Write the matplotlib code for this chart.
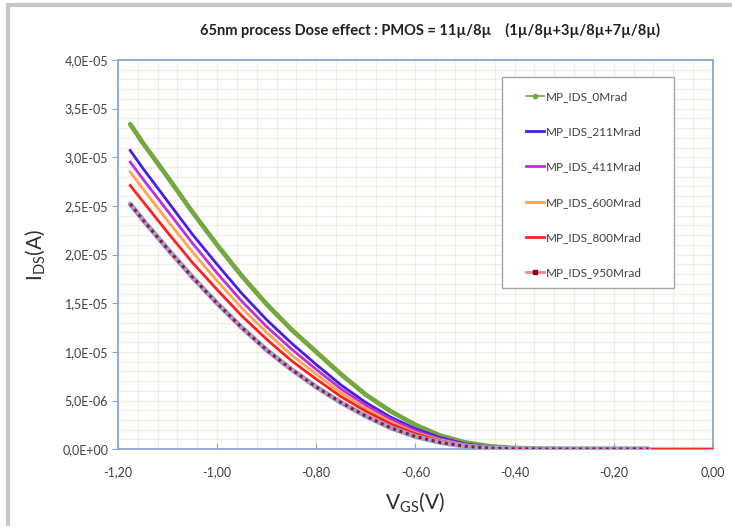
import numpy as np
import matplotlib
matplotlib.use('Agg')
import matplotlib.pyplot as plt
from matplotlib.lines import Line2D
from matplotlib.patches import Rectangle
from matplotlib.ticker import MultipleLocator, FuncFormatter

plt.rcParams['font.family'] = ['Lato', 'DejaVu Sans']

## Data (V_GS in V, I_DS in units of 1e-5 A)
V = [-1.175, -1.15, -1.10, -1.05, -1.00, -0.95, -0.90, -0.85, -0.80, -0.75, -0.70,
     -0.65, -0.60, -0.55, -0.50, -0.45, -0.40, -0.35, -0.30, -0.25, -0.20, -0.15, -0.13]

I_0 = [3.34, 3.15, 2.80, 2.44, 2.10, 1.78, 1.49, 1.23, 1.00, 0.77, 0.56,
       0.39, 0.25, 0.14, 0.07, 0.03, 0.012, 0.005, 0.003, 0.002, 0.002, 0.002, 0.002]
I_211 = [3.07, 2.89, 2.55, 2.21, 1.90, 1.60, 1.33, 1.09, 0.87, 0.66, 0.48,
         0.33, 0.21, 0.12, 0.055, 0.022, 0.008, 0.004, 0.003, 0.002, 0.002, 0.002, 0.002]
I_411 = [2.95, 2.78, 2.45, 2.12, 1.81, 1.52, 1.26, 1.03, 0.82, 0.62, 0.45,
         0.31, 0.19, 0.105, 0.048, 0.018, 0.007, 0.003, 0.002, 0.002, 0.002, 0.002, 0.002]
I_600 = [2.85, 2.68, 2.35, 2.03, 1.73, 1.45, 1.20, 0.97, 0.77, 0.58, 0.42,
         0.28, 0.17, 0.095, 0.043, 0.016, 0.006, 0.003, 0.002, 0.002, 0.002, 0.002, 0.002]
I_950 = [2.52, 2.36, 2.06, 1.77, 1.50, 1.25, 1.02, 0.82, 0.64, 0.48, 0.34,
         0.22, 0.13, 0.07, 0.03, 0.011, 0.004, 0.002, 0.002, 0.002, 0.002, 0.002, 0.002]

## the 800Mrad sweep goes all the way to 0 V
V_800 = V + [-0.10, -0.05, 0.0]
I_800 = [2.71, 2.55, 2.23, 1.92, 1.64, 1.37, 1.13, 0.91, 0.72, 0.54, 0.39,
         0.26, 0.16, 0.085, 0.038, 0.014, 0.005, 0.002, 0.002, 0.002, 0.002, 0.002, 0.002,
         0.002, 0.002, 0.002]

labels = ['MP_IDS_0Mrad', 'MP_IDS_211Mrad', 'MP_IDS_411Mrad',
          'MP_IDS_600Mrad', 'MP_IDS_800Mrad', 'MP_IDS_950Mrad']

def scaled(I):
    return np.array(I) * 1e-5

## Figure
fig = plt.figure(figsize=(7.32, 5.26), dpi=100)
ax = fig.add_axes([0.161, 0.146, 0.813, 0.740])

ax.plot(V, scaled(I_0), color='#72a83e', lw=3.4, solid_capstyle='round', zorder=3)
ax.plot(V, scaled(I_211), color='#4420e0', lw=2.0, zorder=4)
ax.plot(V, scaled(I_411), color='#c02ee0', lw=2.0, zorder=5)
ax.plot(V, scaled(I_600), color='#ffa54f', lw=2.0, zorder=6)
ax.plot(V_800, scaled(I_800), color='#ff2020', lw=2.0, zorder=7)
ax.plot(V, scaled(I_950), color='#9aa3c8', lw=3.6, solid_capstyle='round', zorder=8)
ax.plot(V, scaled(I_950), color='#a0103a', lw=2.2, ls=(0, (1, 1.2)), zorder=9)

## Axes
ax.set_xlim(-1.2, 0.0)
ax.set_ylim(0, 4.0e-5)
ax.xaxis.set_major_locator(MultipleLocator(0.2))
ax.xaxis.set_minor_locator(MultipleLocator(0.04))
ax.yaxis.set_major_locator(MultipleLocator(0.5e-5))
ax.yaxis.set_minor_locator(MultipleLocator(0.1e-5))
ax.xaxis.set_major_formatter(FuncFormatter(lambda v, p: f"{v + 0.0:.2f}".replace('.', ',').replace('-0,00', '0,00')))
ax.yaxis.set_major_formatter(FuncFormatter(lambda v, p: f"{v:.1E}".replace('.', ',')))

ax.grid(True, which='both', color='#f1efe3', lw=0.9, zorder=0)
ax.set_axisbelow(True)
for s in ax.spines.values():
    s.set_color('#8aa6d2')
    s.set_linewidth(1.3)

ax.tick_params(axis='x', which='major', direction='in', length=4, color='#8aa6d2',
               labelsize=9, labelcolor='#404040', pad=12)
ax.tick_params(axis='y', which='major', direction='out', length=4, color='#8aa6d2',
               labelsize=9, labelcolor='#404040', pad=3)
ax.tick_params(which='minor', length=0)

ax.set_xlabel('V$_{\\mathregular{GS}}$(V)', fontsize=15, color='#303030', labelpad=9)
ax.set_ylabel('I$_{\\mathregular{DS}}$(A)', fontsize=15, color='#303030', labelpad=10)

fig.text(0.588, 0.943, '65nm process Dose effect : PMOS = 11\u00b5/8\u00b5    (1\u00b5/8\u00b5+3\u00b5/8\u00b5+7\u00b5/8\u00b5)',
         ha='center', va='center', fontsize=10.5, fontweight='bold', color='#202020')

## Legend: frame drawn separately so the entries can sit with a wide left margin
ax.add_patch(Rectangle((0.645, 0.413), 0.29, 0.544, transform=ax.transAxes,
                       facecolor='white', edgecolor='#a6a6a6', lw=1.0, zorder=10))
handles = [
    Line2D([], [], color='#72a83e', lw=1.2, marker='o', ms=3),
    Line2D([], [], color='#4420e0', lw=2),
    Line2D([], [], color='#c02ee0', lw=2),
    Line2D([], [], color='#ffa54f', lw=2),
    Line2D([], [], color='#ff2020', lw=2),
    Line2D([], [], color='#f08a96', lw=2, marker='s', ms=3, mfc='#900020', mec='#900020'),
]
leg = ax.legend(handles, labels, loc='upper left', bbox_to_anchor=(0.685, 0.92),
                fontsize=8.5, labelspacing=2.05, borderpad=0, handlelength=1.6,
                handletextpad=0.1, frameon=False, borderaxespad=0)
leg.set_zorder(11)
for t in leg.get_texts():
    t.set_color('#404040')

## outer chart frame
fig.add_artist(Line2D([0.011, 1.0], [0.99, 0.99], color='#c8c8c8', lw=3, transform=fig.transFigure))
fig.add_artist(Line2D([0.011, 0.011], [0.0, 0.99], color='#c8c8c8', lw=3, transform=fig.transFigure))

fig.savefig('out.png', dpi=100)
